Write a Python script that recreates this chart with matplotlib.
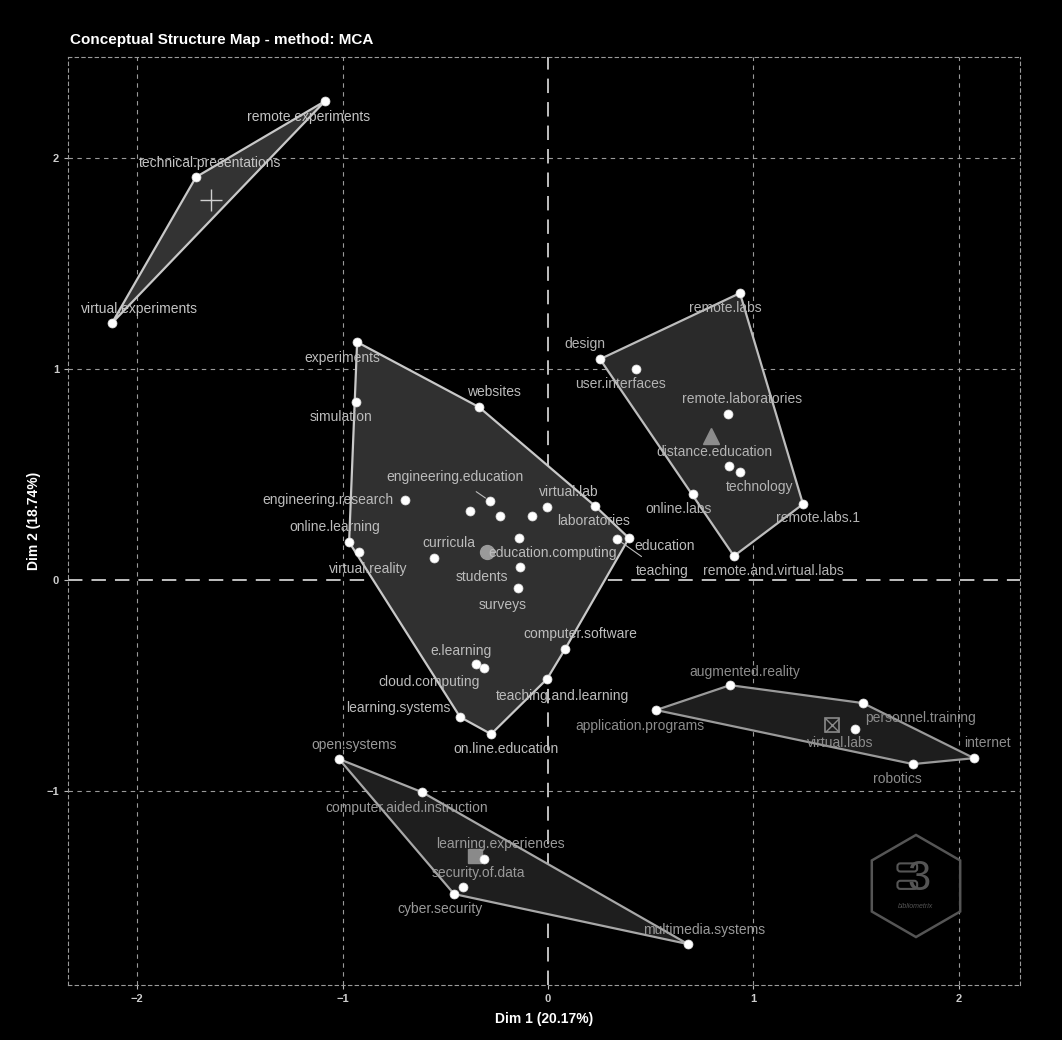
import numpy as np
import matplotlib.pyplot as plt
from matplotlib.patches import Polygon, RegularPolygon, FancyBboxPatch

plt.rcParams['font.family'] = ['Liberation Sans', 'DejaVu Sans']

# ---- data (MCA coordinates) ----
c1_words = ["remote.experiments", "technical.presentations", "virtual.experiments"]
c1_x = [-1.085, -1.713, -2.122]
c1_y = [2.270, 1.910, 1.218]

c2_words = ["experiments", "simulation", "websites", "engineering.research",
            "engineering.education", "", "", "", "virtual.lab", "laboratories",
            "teaching", "education", "online.learning", "virtual.reality", "curricula",
            "education.computing", "students", "surveys", "computer.software",
            "teaching.and.learning", "e.learning", "cloud.computing",
            "learning.systems", "on.line.education"]
c2_x = [-0.929, -0.934, -0.336, -0.696, -0.282, -0.380, -0.234, -0.078, -0.005, 0.229,
        0.336, 0.394, -0.968, -0.920, -0.555, -0.141, -0.136, -0.146, 0.083,
        -0.005, -0.350, -0.311, -0.428, -0.277]
c2_y = [1.128, 0.844, 0.820, 0.379, 0.374, 0.327, 0.303, 0.303, 0.346, 0.351,
        0.194, 0.199, 0.180, 0.133, 0.104, 0.199, 0.062, -0.038, -0.327,
        -0.469, -0.398, -0.417, -0.649, -0.730]

c3_words = ["remote.labs", "design", "user.interfaces", "remote.laboratories",
            "distance.education", "technology", "online.labs", "remote.labs.1",
            "remote.and.virtual.labs"]
c3_x = [0.934, 0.253, 0.428, 0.876, 0.881, 0.934, 0.706, 1.241, 0.905]
c3_y = [1.360, 1.047, 1.000, 0.787, 0.540, 0.512, 0.408, 0.360, 0.114]

c4_words = ["augmented.reality", "application.programs", "personnel.training",
            "virtual.labs", "robotics", "internet"]
c4_x = [0.886, 0.526, 1.533, 1.494, 1.776, 2.073]
c4_y = [-0.498, -0.616, -0.583, -0.706, -0.872, -0.844]

c5_words = ["open.systems", "computer.aided.instruction", "learning.experiences",
            "security.of.data", "cyber.security", "multimedia.systems"]
c5_x = [-1.017, -0.613, -0.311, -0.414, -0.457, 0.681]
c5_y = [-0.848, -1.005, -1.322, -1.455, -1.488, -1.725]

x_ticks = [-2, -1, 0, 1, 2]
y_ticks = [-1, 0, 1, 2]
dim1_label = "Dim 1 (20.17%)"
dim2_label = "Dim 2 (18.74%)"

# label offsets in pixels (dx right, dy down), repel-like placement
offsets = {
    "remote.experiments": (-16, 16), "technical.presentations": (14, -14),
    "virtual.experiments": (27, -14),
    "experiments": (-15, 16), "simulation": (-15, 15), "websites": (15, -15),
    "engineering.research": (-77, 0), "engineering.education": (-35, -24),
    "virtual.lab": (22, -15), "laboratories": (-1, 15), "teaching": (45, 32),
    "education": (36, 8), "online.learning": (-14, -15), "virtual.reality": (9, 17),
    "curricula": (15, -15), "education.computing": (34, 15), "students": (-38, 10),
    "surveys": (-15, 17), "computer.software": (15, -15),
    "teaching.and.learning": (15, 17), "e.learning": (-15, -13),
    "cloud.computing": (-55, 14), "learning.systems": (-62, -9),
    "on.line.education": (15, 15),
    "remote.labs": (-15, 15), "design": (-15, -15), "user.interfaces": (-15, 15),
    "remote.laboratories": (14, -15), "distance.education": (-15, -14),
    "technology": (20, 15), "online.labs": (-15, 15), "remote.labs.1": (15, 14),
    "remote.and.virtual.labs": (39, 15),
    "augmented.reality": (15, -13), "application.programs": (-16, 16),
    "personnel.training": (58, 15), "virtual.labs": (-15, 14), "robotics": (-16, 15),
    "internet": (13, -15),
    "open.systems": (15, -14), "computer.aided.instruction": (-15, 16),
    "learning.experiences": (16, -15), "security.of.data": (15, -14),
    "cyber.security": (-14, 15), "multimedia.systems": (16, -14),
}
with_segment = {"engineering.education", "teaching"}

clusters = [
    dict(w=c1_words, x=c1_x, y=c1_y, fill="#333333", edge="#c8c8c8", txt="#c4c4c4",
         marker="+", mcol="#d0d0d0", ms=16),
    dict(w=c2_words, x=c2_x, y=c2_y, fill="#303030", edge="#c8c8c8", txt="#bcbcbc",
         marker="o", mcol="#9a9a9a", ms=10),
    dict(w=c3_words, x=c3_x, y=c3_y, fill="#2a2a2a", edge="#bdbdbd", txt="#b4b4b4",
         marker="^", mcol="#8c8c8c", ms=12),
    dict(w=c4_words, x=c4_x, y=c4_y, fill="#1d1d1d", edge="#9a9a9a", txt="#8c8c8c",
         marker="boxx", mcol="#8a8a8a", ms=10),
    dict(w=c5_words, x=c5_x, y=c5_y, fill="#1e1e1e", edge="#a8a8a8", txt="#9a9a9a",
         marker="s", mcol="#8a8a8a", ms=10),
]


def convex_hull(pts):
    pts = sorted(set(pts))
    if len(pts) <= 2:
        return pts

    def cross(o, a, b):
        return (a[0] - o[0]) * (b[1] - o[1]) - (a[1] - o[1]) * (b[0] - o[0])
    lower, upper = [], []
    for p in pts:
        while len(lower) >= 2 and cross(lower[-2], lower[-1], p) <= 0:
            lower.pop()
        lower.append(p)
    for p in reversed(pts):
        while len(upper) >= 2 and cross(upper[-2], upper[-1], p) <= 0:
            upper.pop()
        upper.append(p)
    return lower[:-1] + upper[:-1]


fig = plt.figure(figsize=(10.62, 10.40), dpi=100, facecolor="black")
ax = fig.add_axes([68 / 1062, 1 - 985 / 1040, 952 / 1062, 928 / 1040])
ax.set_facecolor("black")

ax.set_xlim(-2.336, 2.297)
ax.set_ylim(-1.919, 2.479)

# grid
for xt in x_ticks:
    if xt != 0:
        ax.axvline(xt, color="#9a9a9a", lw=0.8, ls=(0, (4, 4)), zorder=0)
for yt in y_ticks:
    if yt != 0:
        ax.axhline(yt, color="#9a9a9a", lw=0.8, ls=(0, (4, 4)), zorder=0)
ax.axvline(0, color="#cfcfcf", lw=1.3, ls=(0, (8, 5)), zorder=0.5)
ax.axhline(0, color="#cfcfcf", lw=1.3, ls=(0, (8, 5)), zorder=0.5)

for side in ax.spines.values():
    side.set_color("#9a9a9a")
    side.set_linestyle((0, (3, 3)))
    side.set_linewidth(0.8)

for cl in clusters:
    pts = list(zip(cl["x"], cl["y"]))
    hull = convex_hull(pts)
    ax.add_patch(Polygon(hull, closed=True, facecolor=cl["fill"], edgecolor=cl["edge"],
                         lw=1.6, zorder=1))
    ax.scatter(cl["x"], cl["y"], s=42, color="white", edgecolor="#dddddd", lw=0.5, zorder=3)
    cx, cy = np.mean(cl["x"]), np.mean(cl["y"])
    if cl["marker"] == "boxx":
        # square with a cross inside (R pch 7)
        ax.plot(cx, cy, marker="s", mfc="none", mec=cl["mcol"], ms=cl["ms"],
                mew=1.2, ls="none", zorder=2)
        ax.plot(cx, cy, marker="x", color=cl["mcol"], ms=cl["ms"] * 0.95,
                mew=1.0, ls="none", zorder=2)
    else:
        ax.plot(cx, cy, marker=cl["marker"], color=cl["mcol"], ms=cl["ms"],
                mew=1.0, ls="none", zorder=2)
    for w, x, y in zip(cl["w"], cl["x"], cl["y"]):
        if not w:
            continue
        dx, dy = offsets[w]
        arrow = None
        if w in with_segment:
            arrow = dict(arrowstyle="-", color=cl["txt"], lw=0.8, shrinkA=6, shrinkB=4)
        ax.annotate(w, (x, y), xytext=(dx, -dy), textcoords="offset pixels",
                    ha="center", va="center", fontsize=10, color=cl["txt"],
                    arrowprops=arrow, zorder=4)

ax.set_xticks(x_ticks)
ax.set_yticks(y_ticks)
ax.tick_params(colors="#bbbbbb", labelcolor="#cccccc", labelsize=8, length=3, width=0.8)
for lab in ax.get_xticklabels() + ax.get_yticklabels():
    lab.set_fontweight("bold")
ax.set_xlabel(dim1_label, color="white", fontsize=10, fontweight="bold", labelpad=6)
ax.set_ylabel(dim2_label, color="white", fontsize=10, fontweight="bold", labelpad=4)

fig.text(70 / 1062, 1 - 40 / 1040, "Conceptual Structure Map - method: MCA",
         color="white", fontsize=11, fontweight="bold", ha="left", va="center")

# bibliometrix-like logo
lax = fig.add_axes([(916 - 58) / 1062, 1 - (886 + 58) / 1040, 116 / 1062, 116 / 1040])
lax.set_xlim(-1, 1)
lax.set_ylim(-1, 1)
lax.set_aspect("equal")
lax.axis("off")
lax.add_patch(RegularPolygon((0, 0), 6, radius=0.88, facecolor="none",
                             edgecolor="#555555", lw=1.8))
lax.text(0.05, 0.12, "3", ha="center", va="center", fontsize=30, color="#555555")
for yy in (0.32, 0.02):
    lax.add_patch(FancyBboxPatch((-0.3, yy - 0.05), 0.3, 0.1,
                                 boxstyle="round,pad=0.02,rounding_size=0.05",
                                 facecolor="none", edgecolor="#555555", lw=1.5))
lax.text(0.0, -0.35, "bibliometrix", ha="center", va="center", fontsize=5,
         color="#555555", style="italic")

fig.savefig("out.png", dpi=100, facecolor="black")
